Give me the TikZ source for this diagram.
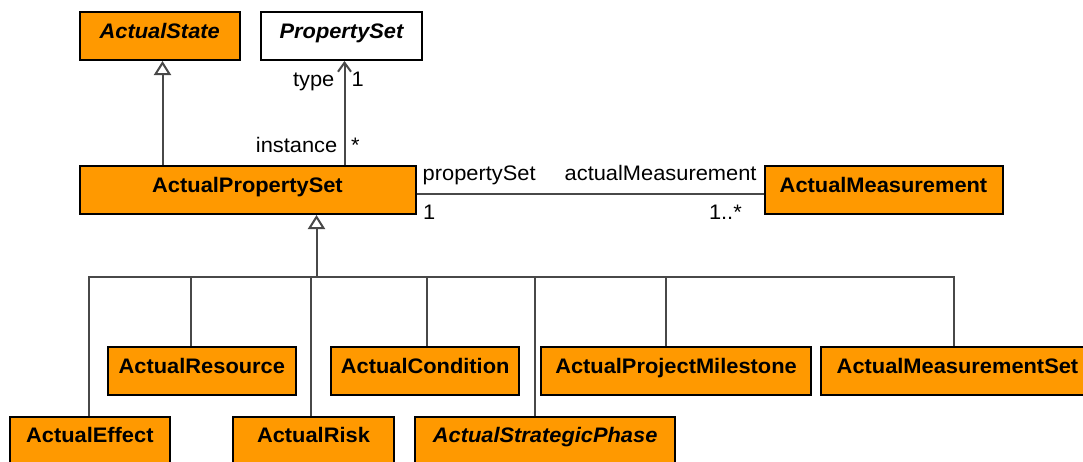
\documentclass[tikz,border=0pt]{standalone}
\usepackage{fontspec}
\setmainfont{Liberation Sans}[FakeStretch=1.04]
\usetikzlibrary{arrows.meta}
\definecolor{umlorange}{RGB}{255,153,0}
\definecolor{conn}{RGB}{72,72,72}
\begin{document}
\begin{tikzpicture}[x=1pt,y=-1pt,
  cls/.style={draw=black, line width=2pt, fill=umlorange, anchor=north west,
    inner sep=0pt, text height=26pt, text depth=22pt, minimum height=48pt,
    font=\fontsize{21}{24}\selectfont\bfseries},
  abs/.style={font=\fontsize{21}{24}\selectfont\bfseries\itshape},
  lbl/.style={inner sep=0pt, font=\fontsize{21}{24}\selectfont},
  connector/.style={draw=conn, line width=2pt},
  gen/.style={connector, -{Triangle[open, length=14pt, width=17pt, fill=white]}},
  nav/.style={connector, -{Straight Barb[length=9pt, width=13pt]}}
]
\clip (0,0) rectangle (1083,461);
\fill[white] (0,0) rectangle (1083,461);

% classes
\node[cls, abs, minimum width=160.5pt] (st) at (78.5,11) {ActualState};
\node[cls, abs, fill=white, minimum width=161pt] (ps) at (260,11) {PropertySet};
\node[cls, minimum width=336pt] (aps) at (78.5,165) {ActualPropertySet};
\node[cls, minimum width=238pt] (am) at (763.5,165) {ActualMeasurement};
\node[cls, minimum width=188.3pt] (res) at (106.7,346) {ActualResource};
\node[cls, minimum width=188.3pt] (cond) at (330,346) {ActualCondition};
\node[cls, minimum width=270pt] (pm) at (540,346) {ActualProjectMilestone};
\node[cls, minimum width=273pt] (ms) at (820,346) {ActualMeasurementSet};
\node[cls, minimum width=160.3pt] (eff) at (8.7,415.7) {ActualEffect};
\node[cls, minimum width=160.4pt] (risk) at (232.3,415.7) {ActualRisk};
\node[cls, abs, minimum width=259.7pt] (sp) at (414.3,415.7) {ActualStrategicPhase};

% generalization to ActualState
\coordinate (g1) at (162.5,165);
\draw[gen] (g1) -- (g1 |- st.south);

% association to PropertySet
\coordinate (a1) at (344.5,165);
\draw[nav] (a1) -- (a1 |- ps.south);
\node[lbl, anchor=base east] (ltype) at (334.5,86.5) {type};
\node[lbl, anchor=base west] (ltm) at (351.5,86.5) {1};
\node[lbl, anchor=base east] (linst) at (337.5,152.3) {instance};
\node[lbl, anchor=base west] (lim) at (351,152.3) {*};

% association to ActualMeasurement
\draw[connector] ([yshift=-4pt]aps.east) -- ([yshift=-4pt]am.west);
\node[lbl, anchor=base west] (lps) at (422.5,180) {propertySet};
\node[lbl, anchor=base west] (lpm) at (423,219.5) {1};
\node[lbl, anchor=base east] (lam) at (756.7,180) {actualMeasurement};
\node[lbl, anchor=base east] (lamm) at (742,219.5) {1..*};

% generalization tree
\coordinate (hub) at (316.5,276.5);
\draw[gen] (hub) -- (hub |- aps.south);
\coordinate (bl) at (89,276.5);
\coordinate (br) at (954,276.5);
\draw[connector, line cap=rect] (bl) -- (br);
\coordinate (v1) at (89,276.5);
\coordinate (v2) at (191,276.5);
\coordinate (v3) at (310.5,276.5);
\coordinate (v4) at (426.5,276.5);
\coordinate (v5) at (534.5,276.5);
\coordinate (v6) at (666,276.5);
\coordinate (v7) at (954,276.5);
\draw[connector] (v1) -- (v1 |- eff.north);
\draw[connector] (v2) -- (v2 |- res.north);
\draw[connector] (v3) -- (v3 |- risk.north);
\draw[connector] (v4) -- (v4 |- cond.north);
\draw[connector] (v5) -- (v5 |- sp.north);
\draw[connector] (v6) -- (v6 |- pm.north);
\draw[connector] (v7) -- (v7 |- ms.north);
\end{tikzpicture}
\end{document}
